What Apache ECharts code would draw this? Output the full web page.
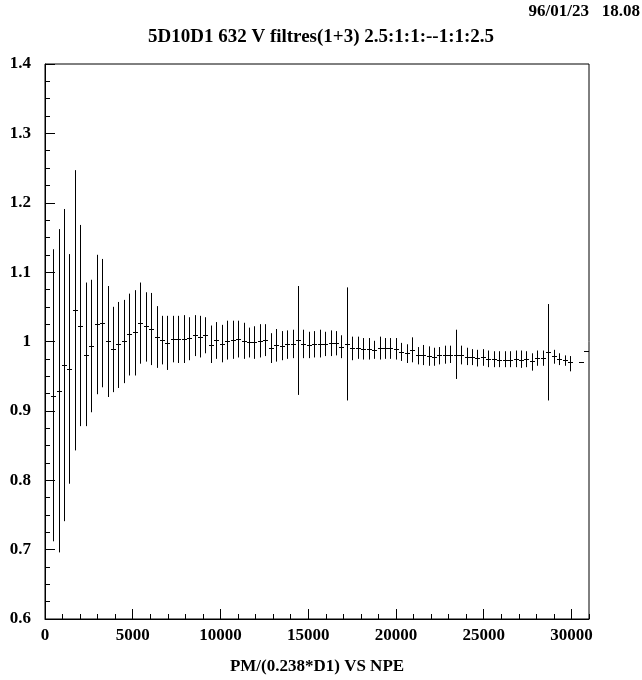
<!DOCTYPE html>
<html>
<head>
<meta charset="utf-8">
<title>5D10D1 632 V profile</title>
<script src="https://cdn.jsdelivr.net/npm/echarts@6/dist/echarts.min.js"></script>
<style>
  html, body { margin: 0; padding: 0; background: #fff; }
  #chart { width: 642px; height: 680px; }
</style>
</head>
<body>
<div id="chart"></div>
<script>
// ---- data (profile histogram, 100 bins of 310 over 0..31000) ----
const binCenters = [
    465, 775, 1085, 1395, 1705, 2015, 2325, 2635, 2945, 3255,
    3565, 3875, 4185, 4495, 4805, 5115, 5425, 5735, 6045, 6355,
    6665, 6975, 7285, 7595, 7905, 8215, 8525, 8835, 9145, 9455,
    9765, 10075, 10385, 10695, 11005, 11315, 11625, 11935, 12245, 12555,
    12865, 13175, 13485, 13795, 14105, 14415, 14725, 15035, 15345, 15655,
    15965, 16275, 16585, 16895, 17205, 17515, 17825, 18135, 18445, 18755,
    19065, 19375, 19685, 19995, 20305, 20615, 20925, 21235, 21545, 21855,
    22165, 22475, 22785, 23095, 23405, 23715, 24025, 24335, 24645, 24955,
    25265, 25575, 25885, 26195, 26505, 26815, 27125, 27435, 27745, 28055,
    28365, 28675, 28985, 29295, 29605, 29915, 30535, 30845
];
const means = [
    0.922, 0.929, 0.966, 0.960, 1.045, 1.023, 0.981, 0.994, 1.025, 1.027,
    1.000, 0.989, 0.996, 1.000, 1.011, 1.013, 1.027, 1.022, 1.018, 1.007,
    1.002, 0.998, 1.003, 1.003, 1.003, 1.005, 1.010, 1.007, 1.009, 0.995,
    1.002, 0.997, 1.001, 1.002, 1.003, 1.001, 0.999, 0.999, 1.000, 1.002,
    0.991, 0.995, 0.994, 0.996, 0.997, 1.002, 0.997, 0.995, 0.997, 0.997,
    0.997, 0.998, 0.998, 0.992, 0.997, 0.990, 0.990, 0.989, 0.989, 0.988,
    0.990, 0.990, 0.990, 0.989, 0.985, 0.983, 0.988, 0.981, 0.981, 0.979,
    0.978, 0.980, 0.981, 0.981, 0.981, 0.980, 0.978, 0.978, 0.976, 0.977,
    0.975, 0.975, 0.974, 0.974, 0.974, 0.975, 0.974, 0.975, 0.972, 0.976,
    0.976, 0.985, 0.979, 0.975, 0.973, 0.971, 0.971, 0.987
];
const highs = [
    1.133, 1.162, 1.191, 1.126, 1.247, 1.168, 1.085, 1.089, 1.125, 1.119,
    1.080, 1.050, 1.057, 1.060, 1.069, 1.074, 1.085, 1.071, 1.070, 1.051,
    1.037, 1.037, 1.037, 1.037, 1.038, 1.035, 1.038, 1.037, 1.035, 1.023,
    1.028, 1.024, 1.030, 1.030, 1.030, 1.027, 1.020, 1.022, 1.025, 1.025,
    1.012, 1.018, 1.015, 1.016, 1.017, 1.080, 1.017, 1.014, 1.015, 1.017,
    1.014, 1.016, 1.015, 1.009, 1.078, 1.007, 1.007, 1.005, 1.005, 1.001,
    1.007, 1.005, 1.005, 1.005, 0.998, 0.996, 1.006, 0.992, 0.995, 0.993,
    0.991, 0.992, 0.994, 0.994, 1.017, 0.994, 0.991, 0.989, 0.988, 0.989,
    0.987, 0.986, 0.986, 0.986, 0.986, 0.987, 0.987, 0.986, 0.983, 0.987,
    0.987, 1.054, 0.988, 0.983, 0.980, 0.979, 0.971, 0.987
];
const lows = [
    0.712, 0.696, 0.741, 0.795, 0.843, 0.878, 0.878, 0.898, 0.924, 0.934,
    0.920, 0.927, 0.933, 0.940, 0.951, 0.951, 0.968, 0.971, 0.966, 0.962,
    0.967, 0.959, 0.970, 0.969, 0.969, 0.973, 0.979, 0.977, 0.983, 0.969,
    0.975, 0.970, 0.974, 0.975, 0.977, 0.975, 0.977, 0.975, 0.977, 0.979,
    0.969, 0.971, 0.973, 0.975, 0.976, 0.923, 0.976, 0.976, 0.977, 0.977,
    0.979, 0.979, 0.980, 0.976, 0.915, 0.973, 0.975, 0.974, 0.974, 0.975,
    0.974, 0.975, 0.975, 0.974, 0.972, 0.969, 0.970, 0.967, 0.966, 0.965,
    0.965, 0.967, 0.968, 0.969, 0.946, 0.967, 0.966, 0.966, 0.964, 0.965,
    0.963, 0.963, 0.963, 0.963, 0.963, 0.963, 0.962, 0.963, 0.958, 0.965,
    0.965, 0.915, 0.968, 0.966, 0.965, 0.957, 0.971, 0.987
];

// tick labels
const xMajorTicks = [0, 5000, 10000, 15000, 20000, 25000, 30000];
const yMajorTicks = [0.6, 0.7, 0.8, 0.9, 1, 1.1, 1.2, 1.3, 1.4];

// minor y ticks (no labels)
const yMinorTicks = [];
for (let k = 1; k < 32; k++) yMinorTicks.push(+(0.6 + k * 0.025).toFixed(3));

const FONT = 'Liberation Serif';
const txt = { color: '#000', fontFamily: FONT, fontWeight: 'bold' };

const chart = echarts.init(document.getElementById('chart'), null, { renderer: 'canvas' });

function renderItem(params, api) {
    const pm = api.coord([api.value(0), api.value(1)]);
    const pl = api.coord([api.value(0), api.value(2)]);
    const ph = api.coord([api.value(0), api.value(3)]);
    const x = Math.round(pm[0]) + 0.5;
    const ym = Math.round(pm[1]) + 0.5;
    return {
        type: 'group',
        children: [
            { type: 'line', shape: { x1: x, y1: ph[1], x2: x, y2: pl[1] }, style: { stroke: '#000', lineWidth: 1 } },
            { type: 'line', shape: { x1: x - 2.5, y1: ym, x2: x + 2.5, y2: ym }, style: { stroke: '#000', lineWidth: 1 } }
        ]
    };
}

const seriesData = binCenters.map((x, k) => [x, means[k], lows[k], highs[k]]);

chart.setOption({
    animation: false,
    backgroundColor: '#fff',
    title: [
        {
            text: '5D10D1 632 V filtres(1+3) 2.5:1:1:--1:1:2.5',
            left: 'center', top: 23,
            textStyle: Object.assign({ fontSize: 19 }, txt)
        },
        {
            text: '96/01/23   18.08',
            right: 2, top: 3, padding: 0,
            textStyle: Object.assign({ fontSize: 17 }, txt)
        }
    ],
    grid: {
        left: 45, right: 53, top: 64, bottom: 59,
        show: true, borderColor: '#000', borderWidth: 1, containLabel: false
    },
    xAxis: [
        {
            type: 'value', min: 0, max: 31000, interval: 5000, position: 'bottom',
            name: 'PM/(0.238*D1) VS NPE', nameLocation: 'middle', nameGap: 39,
            nameTextStyle: Object.assign({ fontSize: 17 }, txt),
            axisLine: { show: true, lineStyle: { color: '#000', width: 1 } },
            axisTick: { show: true, inside: true, length: 10, lineStyle: { color: '#000' } },
            axisLabel: Object.assign({
                fontSize: 17, margin: 8, showMaxLabel: false,
                formatter: v => (xMajorTicks.indexOf(v) >= 0 ? String(v) : '')
            }, txt),
            splitLine: { show: false }
        },
        {
            type: 'value', min: 0, max: 31000, interval: 1000, position: 'bottom',
            axisLine: { show: false },
            axisTick: { show: true, inside: true, length: 5, lineStyle: { color: '#000' } },
            axisLabel: { show: false },
            splitLine: { show: false }
        }
    ],
    yAxis: [
        {
            type: 'value', min: 0.6, max: 1.4, position: 'left',
            axisLine: { show: true, lineStyle: { color: '#000', width: 1 } },
            axisTick: { show: true, inside: true, length: 10, customValues: yMajorTicks, lineStyle: { color: '#000' } },
            axisLabel: Object.assign({ fontSize: 17, margin: 14, customValues: yMajorTicks }, txt),
            splitLine: { show: false }
        },
        {
            type: 'value', min: 0.6, max: 1.4, position: 'left',
            axisLine: { show: false },
            axisTick: { show: true, inside: true, length: 5, customValues: yMinorTicks, lineStyle: { color: '#000' } },
            axisLabel: { show: false },
            splitLine: { show: false }
        }
    ],
    series: [
        {
            type: 'custom',
            xAxisIndex: 0, yAxisIndex: 0,
            renderItem: renderItem,
            encode: { x: 0, y: [1, 2, 3] },
            data: seriesData,
            clip: true
        }
    ]
});
</script>
</body>
</html>
